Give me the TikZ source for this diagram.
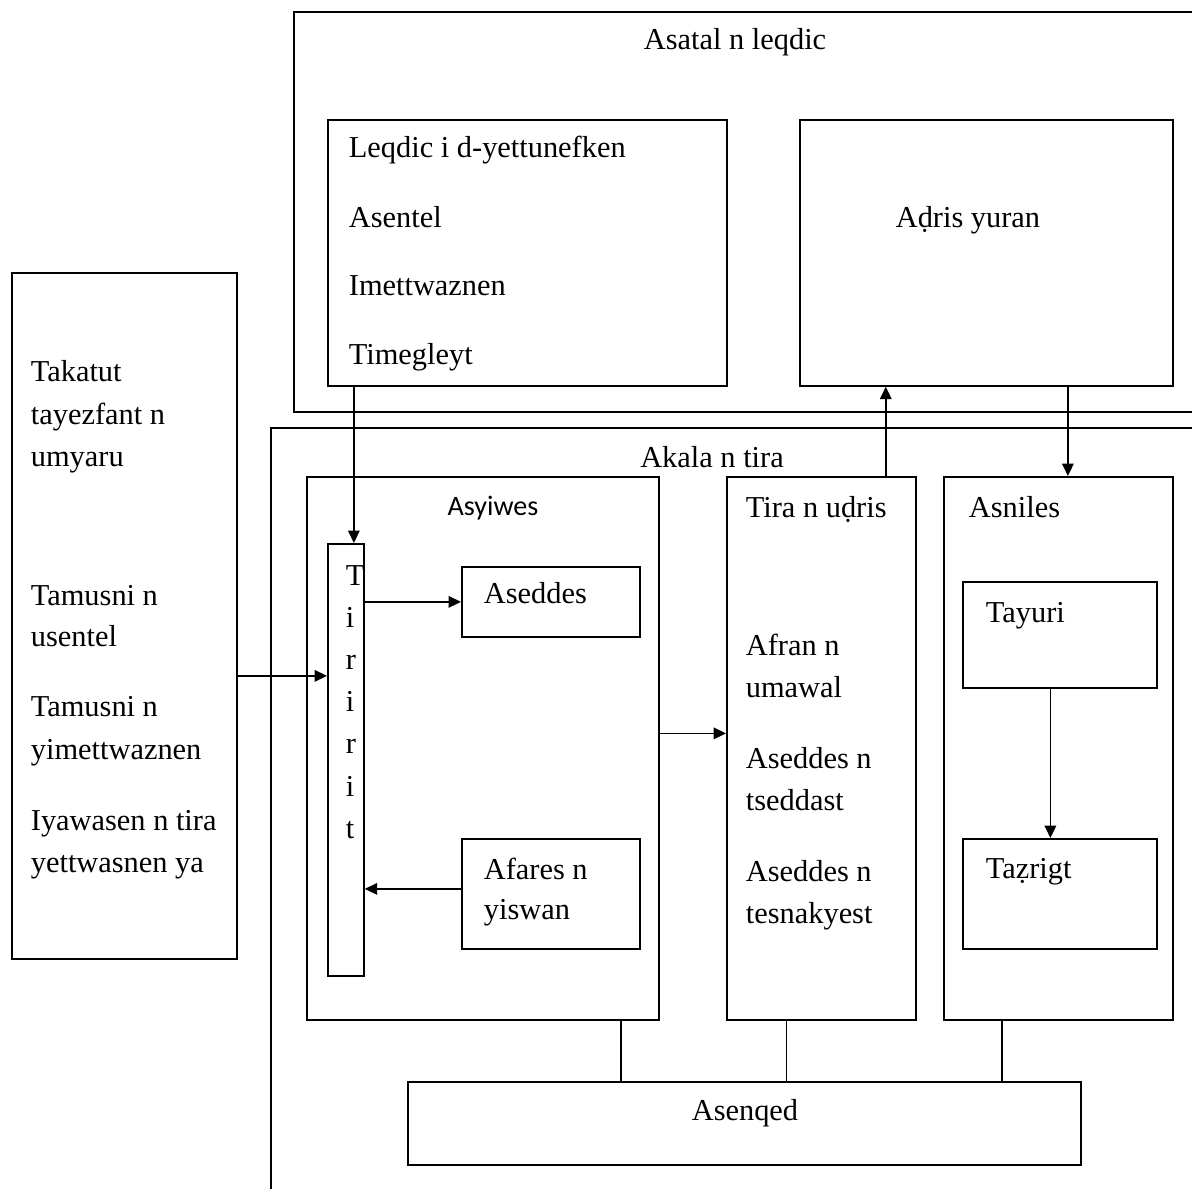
\documentclass[tikz,border=0pt]{standalone}
\usepackage{fontspec}
\setmainfont{Liberation Serif}
\newfontfamily\calibrifont{Carlito}
\usetikzlibrary{arrows.meta,calc}

\begin{document}
\begin{tikzpicture}[x=0.02cm,y=-0.02cm,line width=1pt,
  blk/.style 2 args={draw, anchor=north west, inner sep=0pt,
    minimum width=#1*0.02cm, minimum height=#2*0.02cm},
  txt/.style={anchor=base west, inner sep=0pt, font=\fontsize{17.3}{20}\selectfont},
  ctxt/.style={txt, anchor=base},
  arr/.style={-{Triangle[length=7pt,width=6.5pt]}}]
\useasboundingbox (0,0) rectangle (1192,1189);
% outer frames (open to the right)
\draw (1192,12) -- (294,12) -- (294,412) -- (1192,412);
\draw (1192,428) -- (271,428) -- (271,1189);
\node[ctxt] (asatal) at (735,50) {Asatal n leqdic};
\node[ctxt] (akala) at (712,467) {Akala n tira};
% boxes
\node[blk={399}{266}] (leqdic) at (327,119) {};
\node[blk={373}{266}] (yuran) at (799,119) {};
\node[blk={225}{686}] (takatut) at (11,272) {};
\node[blk={352}{543}] (asyiwes) at (306,476) {};
\node[blk={36}{432}] (tirirat) at (327,543) {};
\node[blk={178}{70}] (aseddes) at (461,566) {};
\node[blk={178}{110}] (afares) at (461,838) {};
\node[blk={189}{543}] (udris) at (726,476) {};
\node[blk={229}{543}] (asniles) at (943,476) {};
\node[blk={194}{106}] (tayuri) at (962,581) {};
\node[blk={194}{110}] (tazrigt) at (962,838) {};
\node[blk={673}{83}] (asenqed) at (407,1081) {};
% texts of the top boxes
\node[txt] (lq1) at (348,158) {Leqdic i d-yettunefken};
\node[txt] (lq2) at (348,228) {Asentel};
\node[txt] (lq3) at (348,296) {Imettwaznen};
\node[txt] (lq4) at (348,364) {Timegleyt};
\node[ctxt] (yr) at (968,228) {Aḍris yuran};
% left box
\node[txt] (tk1) at (30,381) {Takatut};
\node[txt] (tk2) at (30,424) {tayezfant n};
\node[txt] (tk3) at (30,466) {umyaru};
\node[txt] (tk4) at (30,605) {Tamusni n};
\node[txt] (tk5) at (30,646) {usentel};
\node[txt] (tk6) at (30,716) {Tamusni n};
\node[txt] (tk7) at (30,759) {yimettwaznen};
\node[txt] (tk8) at (30,830) {Iyawasen n tira};
\node[txt] (tk9) at (30,872) {yettwasnen ya};
% Asyiwes
\node[ctxt, font=\calibrifont\fontsize{16}{19}\selectfont] (asy) at (493,515) {Asyiwes};
\foreach \l [count=\k] in {T,i,r,i,r,i,t}
  \node[txt] (tr\k) at (345,{585+42.2*(\k-1)}) {\l};
\node[txt] (as) at (483,603) {Aseddes};
\node[txt] (af1) at (483,879) {Afares n};
\node[txt] (af2) at (483,919) {yiswan};
% Tira n udris
\node[txt] (ud0) at (745,517) {Tira n uḍris};
\node[txt] (ud1) at (745,655) {Afran n};
\node[txt] (ud2) at (745,697) {umawal};
\node[txt] (ud3) at (745,768) {Aseddes n};
\node[txt] (ud4) at (745,810) {tseddast};
\node[txt] (ud5) at (745,881) {Aseddes n};
\node[txt] (ud6) at (745,923) {tesnakyest};
% Asniles
\node[txt] (asn) at (968,517) {Asniles};
\node[txt] (ty) at (985,622) {Tayuri};
\node[txt] (tz) at (985,878) {Taẓrigt};
\node[ctxt] (aq) at (745,1120) {Asenqed};
% arrows
\draw[arr] ([xshift=0.16cm]tirirat.north |- leqdic.south) -- ([xshift=0.16cm]tirirat.north);
\draw[arr] ([yshift=-1.2cm]takatut.east) -- ([yshift=-1.2cm]takatut.east -| tirirat.west);
\draw[arr] (aseddes.west -| tirirat.east) -- (aseddes.west);
\draw[arr] ([yshift=0.1cm]afares.west) -- ([yshift=0.1cm]afares.west -| tirirat.east);
\draw[arr] ([yshift=0.3cm]asyiwes.east) -- ([yshift=0.3cm]asyiwes.east -| udris.west);
\draw[arr] ([xshift=-0.62cm]udris.north east) -- ([xshift=-0.62cm]udris.north east |- yuran.south);
\draw[arr] ([xshift=0.19cm]asniles.north |- yuran.south) -- ([xshift=0.19cm]asniles.north);
\draw[arr] ([xshift=-0.19cm]tayuri.south) -- ([xshift=-0.19cm]tazrigt.north);
% links to Asenqed
\draw ([xshift=-0.78cm]asyiwes.south east) -- ([xshift=-0.78cm]asyiwes.south east |- asenqed.north);
\draw ([xshift=-0.7cm]udris.south) -- ([xshift=-0.7cm]udris.south |- asenqed.north);
\draw ([xshift=-1.13cm]asniles.south) -- ([xshift=-1.13cm]asniles.south |- asenqed.north);
\end{tikzpicture}
\end{document}
